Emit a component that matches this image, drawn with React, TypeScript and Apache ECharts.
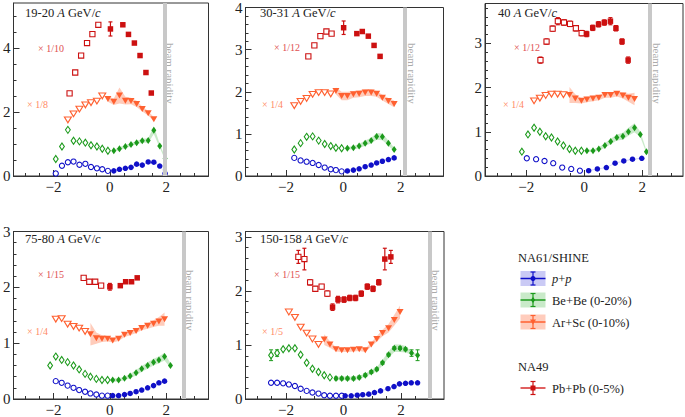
import React, { useEffect, useRef } from 'react';
import * as echarts from 'echarts';

type Pt = [number, number];

// ---------------- Panel 1: 19-20 A GeV/c ----------------
const P1_PP_OPEN: Pt[] = [[-1.92,0.08],[-1.70,0.32],[-1.49,0.43],[-1.29,0.45],[-1.08,0.35],[-0.87,0.38],[-0.67,0.28],[-0.46,0.24],[-0.27,0.21],[-0.07,0.16]];
const P1_PP_FILL: Pt[] = [[0.14,0.16],[0.34,0.21],[0.55,0.24],[0.75,0.27],[0.95,0.37],[1.15,0.34],[1.36,0.44],[1.56,0.43],[1.77,0.31],[1.96,0.08]];
const P1_PP_SYS = [0.01,0.01,0.01,0.01,0.015,0.015,0.015,0.015,0.015,0.01];
const P1_BE_OPEN: Pt[] = [[-1.92,0.53],[-1.70,0.92],[-1.49,1.44],[-1.29,1.10],[-1.08,1.08],[-0.87,1.04],[-0.67,0.96],[-0.46,0.92],[-0.27,0.85],[-0.07,0.79]];
const P1_BE_FILL: Pt[] = [[0.14,0.79],[0.34,0.85],[0.55,0.92],[0.75,0.98],[0.95,1.04],[1.15,1.10],[1.36,1.11],[1.56,1.43],[1.77,0.94],[1.96,0.55]];
const P1_BE_SYS = [0.04,0.05,0.05,0.05,0.05,0.06,0.07,0.12,0.06,0.04];
const P1_AR_OPEN: Pt[] = [[-1.49,1.75],[-1.29,1.94],[-1.08,2.09],[-0.87,2.22],[-0.67,2.29],[-0.46,2.34],[-0.27,2.50]];
const P1_AR_FILL: Pt[] = [[-0.07,2.40],[0.14,2.32],[0.34,2.51],[0.55,2.35],[0.75,2.34],[0.95,2.25],[1.15,2.09],[1.36,1.96],[1.56,1.77]];
const P1_AR_SYS = [0.08,0.10,0.25,0.12,0.10,0.10,0.08,0.07,0.06];
const P1_PB_OPEN: Pt[] = [[-1.43,2.58],[-1.23,3.23],[-1.02,3.76],[-0.81,4.15],[-0.62,4.43],[-0.41,4.72]];
const P1_PB_OPEN_ERR = [0,0,0,0,0,0];
const P1_PB_FILL: Pt[] = [[0.02,4.59],[0.46,4.72],[0.66,4.42],[0.87,4.15],[1.07,3.76],[1.28,3.23],[1.47,2.59]];
const P1_PB_FILL_ERR = [0.22,0.05,0,0,0,0,0];

// ---------------- Panel 2: 30-31 A GeV/c ----------------
const P2_PP_OPEN: Pt[] = [[-1.71,0.43],[-1.49,0.37],[-1.28,0.34],[-1.07,0.31],[-0.86,0.26],[-0.65,0.20],[-0.44,0.16],[-0.26,0.14],[-0.06,0.11]];
const P2_PP_FILL: Pt[] = [[0.14,0.12],[0.35,0.14],[0.55,0.17],[0.76,0.22],[0.97,0.26],[1.16,0.31],[1.36,0.35],[1.57,0.39],[1.77,0.43]];
const P2_PP_SYS = [0.01,0.01,0.01,0.01,0.01,0.01,0.01,0.01,0.01];
const P2_BE_OPEN: Pt[] = [[-1.71,0.63],[-1.49,0.78],[-1.28,0.93],[-1.07,0.94],[-0.86,0.84],[-0.65,0.76],[-0.44,0.71],[-0.26,0.67],[-0.06,0.66]];
const P2_BE_FILL: Pt[] = [[0.14,0.66],[0.35,0.67],[0.55,0.71],[0.76,0.78],[0.97,0.84],[1.16,0.94],[1.36,0.93],[1.57,0.78],[1.77,0.63]];
const P2_BE_SYS = [0.03,0.04,0.05,0.06,0.07,0.08,0.08,0.06,0.04];
const P2_AR_OPEN: Pt[] = [[-1.71,1.67],[-1.49,1.77],[-1.28,1.84],[-1.07,1.94],[-0.86,1.98],[-0.65,1.98],[-0.44,1.95]];
const P2_AR_FILL: Pt[] = [[-0.26,2.02],[-0.06,1.90],[0.14,1.90],[0.35,1.94],[0.55,1.95],[0.76,1.98],[0.97,1.98],[1.16,1.95],[1.36,1.86],[1.57,1.78],[1.77,1.71]];
const P2_AR_SYS = [0.08,0.10,0.10,0.08,0.08,0.08,0.08,0.07,0.07,0.07,0.08];
const P2_PB_OPEN: Pt[] = [[-1.22,2.84],[-1.01,3.10],[-0.80,3.32],[-0.59,3.43],[-0.41,3.38]];
const P2_PB_OPEN_ERR = [0,0,0,0,0];
const P2_PB_FILL: Pt[] = [[0.01,3.52],[0.47,3.38],[0.66,3.43],[0.87,3.32],[1.07,3.10],[1.28,2.84]];
const P2_PB_FILL_ERR = [0.16,0,0,0,0,0];

// ---------------- Panel 3: 40 A GeV/c ----------------
const P3_PP_OPEN: Pt[] = [[-1.98,0.40],[-1.66,0.38],[-1.37,0.34],[-1.07,0.29],[-0.76,0.19],[-0.45,0.16],[-0.15,0.12]];
const P3_PP_FILL: Pt[] = [[0.15,0.12],[0.45,0.16],[0.76,0.19],[1.06,0.29],[1.36,0.34],[1.66,0.38],[1.98,0.40]];
const P3_PP_SYS = [0.01,0.01,0.01,0.01,0.01,0.01,0.01];
const P3_BE_OPEN: Pt[] = [[-2.15,0.55],[-1.94,0.94],[-1.73,1.09],[-1.53,1.00],[-1.33,0.90],[-1.13,0.87],[-0.92,0.78],[-0.72,0.69],[-0.51,0.61],[-0.31,0.57],[-0.10,0.57]];
const P3_BE_FILL: Pt[] = [[0.09,0.57],[0.30,0.57],[0.50,0.61],[0.71,0.69],[0.91,0.78],[1.12,0.87],[1.33,0.90],[1.52,1.00],[1.73,1.09],[1.93,0.94],[2.14,0.55]];
const P3_BE_SYS = [0.03,0.03,0.04,0.05,0.06,0.07,0.08,0.09,0.10,0.06,0.03];
const P3_AR_OPEN: Pt[] = [[-1.73,1.70],[-1.53,1.76],[-1.33,1.82],[-1.13,1.85],[-0.92,1.85],[-0.72,1.84]];
const P3_AR_FILL: Pt[] = [[-0.51,1.83],[-0.31,1.75],[-0.10,1.70],[0.09,1.73],[0.30,1.75],[0.50,1.77],[0.71,1.83],[0.91,1.83],[1.12,1.86],[1.33,1.82],[1.52,1.77],[1.73,1.74]];
const P3_AR_SYS = [0.18,0.10,0.06,0.06,0.06,0.06,0.06,0.06,0.06,0.07,0.09,0.14];
const P3_PB_OPEN: Pt[] = [[-1.51,2.62],[-1.30,3.04],[-1.09,3.33],[-0.91,3.50],[-0.70,3.47],[-0.49,3.44],[-0.29,3.34],[-0.09,3.23]];
const P3_PB_OPEN_ERR = [0.07,0.06,0.06,0.08,0.06,0.06,0.06,0.06];
const P3_PB_FILL: Pt[] = [[0.08,3.21],[0.29,3.35],[0.49,3.43],[0.69,3.47],[0.90,3.50],[1.09,3.34],[1.30,3.04],[1.51,2.62]];
const P3_PB_FILL_ERR = [0.06,0.06,0.06,0.06,0.08,0.06,0.06,0.07];

// ---------------- Panel 4: 75-80 A GeV/c ----------------
const P4_PP_OPEN: Pt[] = [[-1.92,0.32],[-1.71,0.29],[-1.50,0.24],[-1.29,0.20],[-1.09,0.16],[-0.88,0.13],[-0.69,0.10],[-0.48,0.08],[-0.28,0.06],[-0.08,0.06]];
const P4_PP_FILL: Pt[] = [[0.10,0.06],[0.31,0.06],[0.52,0.08],[0.72,0.10],[0.93,0.13],[1.13,0.16],[1.34,0.20],[1.55,0.24],[1.74,0.29],[1.94,0.32]];
const P4_PP_SYS = [0.008,0.008,0.008,0.008,0.008,0.01,0.01,0.01,0.01,0.01];
const P4_BE_OPEN: Pt[] = [[-2.12,0.60],[-1.92,0.76],[-1.71,0.70],[-1.50,0.66],[-1.29,0.60],[-1.09,0.53],[-0.88,0.45],[-0.69,0.40],[-0.48,0.36],[-0.28,0.34],[-0.08,0.34]];
const P4_BE_FILL: Pt[] = [[0.10,0.34],[0.31,0.34],[0.52,0.37],[0.72,0.41],[0.93,0.47],[1.13,0.54],[1.34,0.60],[1.55,0.66],[1.74,0.70],[1.94,0.76],[2.15,0.60]];
const P4_BE_SYS = [0.03,0.03,0.03,0.04,0.05,0.05,0.06,0.06,0.06,0.07,0.04];
const P4_AR_OPEN: Pt[] = [[-1.92,1.43],[-1.71,1.44],[-1.50,1.34],[-1.29,1.30],[-1.09,1.27],[-0.88,1.21]];
const P4_AR_FILL: Pt[] = [[-0.69,1.16],[-0.48,1.09],[-0.28,1.08],[-0.08,1.08],[0.10,1.05],[0.31,1.08],[0.52,1.15],[0.72,1.18],[0.93,1.22],[1.13,1.27],[1.34,1.31],[1.55,1.35],[1.74,1.39],[1.94,1.43]];
const P4_AR_SYS = [0.20,0.10,0.06,0.05,0.04,0.04,0.04,0.04,0.04,0.04,0.05,0.06,0.08,0.12];
const P4_PB_OPEN: Pt[] = [[-0.93,2.17],[-0.73,2.10],[-0.52,2.10],[-0.31,2.03]];
const P4_PB_OPEN_ERR = [0,0,0,0];
const P4_PB_FILL: Pt[] = [[0.00,2.01],[0.37,2.03],[0.56,2.10],[0.77,2.10],[0.97,2.17]];
const P4_PB_FILL_ERR = [0.06,0,0,0,0];

// ---------------- Panel 5: 150-158 A GeV/c ----------------
const P5_PP_OPEN: Pt[] = [[-2.52,0.30],[-2.31,0.30],[-2.10,0.29],[-1.90,0.27],[-1.69,0.24],[-1.49,0.19],[-1.28,0.15],[-1.08,0.12],[-0.87,0.10],[-0.67,0.07],[-0.47,0.06],[-0.26,0.06],[-0.06,0.06]];
const P5_PP_FILL: Pt[] = [[0.06,0.06],[0.27,0.06],[0.48,0.07],[0.67,0.08],[0.88,0.09],[1.08,0.12],[1.29,0.15],[1.55,0.19],[1.76,0.23],[1.95,0.28],[2.16,0.29],[2.36,0.30],[2.58,0.30]];
const P5_PP_SYS = [0.008,0.008,0.008,0.008,0.008,0.008,0.01,0.01,0.01,0.01,0.01,0.01,0.01];
const P5_BE_OPEN: Pt[] = [[-2.52,0.81],[-2.31,0.85],[-2.10,0.92],[-1.90,0.94],[-1.69,0.94],[-1.49,0.82],[-1.28,0.67],[-1.08,0.56],[-0.87,0.50],[-0.67,0.44],[-0.47,0.40]];
const P5_BE_OPEN_ERR = [0.10,0.06,0,0,0,0,0,0,0,0,0];
const P5_BE_FILL: Pt[] = [[-0.26,0.38],[-0.06,0.38],[0.14,0.38],[0.35,0.38],[0.55,0.40],[0.76,0.44],[0.97,0.50],[1.16,0.55],[1.36,0.67],[1.57,0.82],[1.77,0.94],[1.97,0.94],[2.16,0.92],[2.37,0.85],[2.58,0.81]];
const P5_BE_FILL_ERR = [0,0,0,0,0,0,0,0,0,0,0,0,0,0.06,0.10];
const P5_BE_SYS = [0.03,0.03,0.03,0.03,0.03,0.03,0.04,0.04,0.05,0.06,0.07,0.07,0.06,0.03,0.02];
const P5_AR_OPEN: Pt[] = [[-1.90,1.61],[-1.69,1.51],[-1.49,1.33],[-1.28,1.22],[-1.08,1.11],[-0.87,1.01]];
const P5_AR_FILL: Pt[] = [[-0.67,1.10],[-0.47,1.01],[-0.26,0.92],[-0.06,0.90],[0.14,0.90],[0.35,0.91],[0.55,0.92],[0.76,0.90],[0.97,1.01],[1.16,1.11],[1.36,1.22],[1.57,1.31],[1.77,1.46],[1.97,1.61]];
const P5_AR_SYS = [0.10,0.06,0.04,0.03,0.03,0.03,0.03,0.03,0.04,0.05,0.06,0.08,0.10,0.12];
const P5_PB_OPEN: Pt[] = [[-1.57,2.63],[-1.36,2.59],[-1.16,2.16],[-0.98,2.04],[-0.76,2.08],[-0.56,1.95]];
const P5_PB_OPEN_ERR = [0.12,0.20,0.05,0.04,0.04,0.05];
const P5_PB_FILL: Pt[] = [[-0.38,1.70],[-0.19,1.84],[0.02,1.84],[0.22,1.87],[0.42,1.87],[0.62,1.95],[0.83,2.08],[1.03,2.04],[1.23,2.16],[1.44,2.59],[1.65,2.63]];
const P5_PB_FILL_ERR = [0.06,0.06,0.05,0.05,0.05,0.05,0.05,0.05,0.05,0.20,0.12];

// ---------------- labels / annotations ----------------
const TITLES = ['19-20', '30-31', '40', '75-80', '150-158'];
const PB_SCALE = ['\u00d7 1/10', '\u00d7 1/12', '\u00d7 1/12', '\u00d7 1/15', '\u00d7 1/15'];
const AR_SCALE = ['\u00d7 1/8', '\u00d7 1/4', '\u00d7 1/4', '\u00d7 1/4', '\u00d7 1/5'];
const BEAM_Y = [1.93, 2.15, 2.27, 2.62, 2.99];
const BE_STAT = [0.03, 0.03, 0.03, 0.025, 0.025];
const X_MAJOR = [-2, 0, 2];
const X_MINOR = [-3, -2.5, -1.5, -1, -0.5, 0.5, 1, 1.5, 2.5, 3];
const Y_MAJOR = [[0, 2, 4], [0, 1, 2, 3, 4], [0, 1, 2, 3], [0, 1, 2, 3], [0, 1, 2, 3]];

// ---------------- layout ----------------
const GRIDS = [
  { left: 9.5, top: 3, width: 199, height: 173, xmin: -3.42, xmax: 3.5, ymax: 5.4, ystep: 0.5 },
  { left: 245.5, top: 3.5, width: 198, height: 172.5, xmin: -3.41, xmax: 3.49, ymax: 4.0, ystep: 0.2 },
  { left: 485, top: 3.5, width: 198, height: 172.5, xmin: -3.42, xmax: 3.4, ymax: 3.9, ystep: 0.2 },
  { left: 9.5, top: 231.5, width: 199, height: 171.2, xmin: -3.42, xmax: 3.5, ymax: 3.0, ystep: 0.2 },
  { left: 245.5, top: 231.5, width: 198.5, height: 171.2, xmin: -3.41, xmax: 3.5, ymax: 3.1, ystep: 0.2 },
];
const TITLE_POS = [[25, 13], [260, 13], [498, 13], [25, 238.5], [260, 238.5]];
const PB_LABEL_POS = [[38, 48], [274, 47], [514, 47], [38, 274], [274, 274]];
const AR_LABEL_POS = [[27, 104], [262, 104], [503, 104], [27, 331], [262, 331]];

const PANELS = [
  { ppO: P1_PP_OPEN, ppF: P1_PP_FILL, ppS: P1_PP_SYS, beO: P1_BE_OPEN, beF: P1_BE_FILL, beS: P1_BE_SYS, arO: P1_AR_OPEN, arF: P1_AR_FILL, arS: P1_AR_SYS, pbO: P1_PB_OPEN, pbOE: P1_PB_OPEN_ERR, pbF: P1_PB_FILL, pbFE: P1_PB_FILL_ERR },
  { ppO: P2_PP_OPEN, ppF: P2_PP_FILL, ppS: P2_PP_SYS, beO: P2_BE_OPEN, beF: P2_BE_FILL, beS: P2_BE_SYS, arO: P2_AR_OPEN, arF: P2_AR_FILL, arS: P2_AR_SYS, pbO: P2_PB_OPEN, pbOE: P2_PB_OPEN_ERR, pbF: P2_PB_FILL, pbFE: P2_PB_FILL_ERR },
  { ppO: P3_PP_OPEN, ppF: P3_PP_FILL, ppS: P3_PP_SYS, beO: P3_BE_OPEN, beF: P3_BE_FILL, beS: P3_BE_SYS, arO: P3_AR_OPEN, arF: P3_AR_FILL, arS: P3_AR_SYS, pbO: P3_PB_OPEN, pbOE: P3_PB_OPEN_ERR, pbF: P3_PB_FILL, pbFE: P3_PB_FILL_ERR },
  { ppO: P4_PP_OPEN, ppF: P4_PP_FILL, ppS: P4_PP_SYS, beO: P4_BE_OPEN, beF: P4_BE_FILL, beS: P4_BE_SYS, arO: P4_AR_OPEN, arF: P4_AR_FILL, arS: P4_AR_SYS, pbO: P4_PB_OPEN, pbOE: P4_PB_OPEN_ERR, pbF: P4_PB_FILL, pbFE: P4_PB_FILL_ERR },
  { ppO: P5_PP_OPEN, ppF: P5_PP_FILL, ppS: P5_PP_SYS, beO: P5_BE_OPEN, beF: P5_BE_FILL, beS: P5_BE_SYS, arO: P5_AR_OPEN, arF: P5_AR_FILL, arS: P5_AR_SYS, pbO: P5_PB_OPEN, pbOE: P5_PB_OPEN_ERR, pbF: P5_PB_FILL, pbFE: P5_PB_FILL_ERR, beOE: P5_BE_OPEN_ERR, beFE: P5_BE_FILL_ERR },
];

const FONT = 'Liberation Serif, Times New Roman, serif';
const C_PP = '#1010c8';
const C_BE = '#1c9a1c';
const C_AR = '#ff6030';
const C_PB = '#cc1010';
const BAND_PP = 'rgba(40,40,220,0.22)';
const BAND_BE = 'rgba(40,170,40,0.25)';
const BAND_AR = 'rgba(255,110,60,0.35)';
const AXIS_C = '#333';

function fmt(v: number) {
  return v < 0 ? '\u2212' + Math.abs(v) : String(v);
}
function steps(max: number, step: number) {
  const a: number[] = [];
  for (let k = 0; k * step <= max + 1e-9; k++) a.push(+(k * step).toFixed(3));
  return a;
}

function bandSeries(ax: number, pts: Pt[], sys: number[], color: string) {
  return {
    type: 'custom', xAxisIndex: ax, yAxisIndex: ax, silent: true, z: 1,
    data: [[pts[0][0], pts[0][1]]],
    renderItem: (_p: any, api: any) => {
      const up = pts.map((p, i) => api.coord([p[0], p[1] + sys[i]]));
      const lo = pts.map((p, i) => api.coord([p[0], p[1] - sys[i]])).reverse();
      return { type: 'polygon', shape: { points: up.concat(lo) }, style: { fill: color, stroke: 'none' } };
    },
  };
}

function errSeries(ax: number, pts: Pt[], errs: number[], color: string, cap: number, w: number) {
  return {
    type: 'custom', xAxisIndex: ax, yAxisIndex: ax, silent: true, z: 3,
    data: pts.map((p, i) => [p[0], p[1], errs[i]]),
    renderItem: (_p: any, api: any) => {
      const x = api.value(0), y = api.value(1), e = api.value(2);
      if (!e) return { type: 'group', children: [] };
      const a = api.coord([x, y + e]);
      const b = api.coord([x, y - e]);
      const ch: any[] = [
        { type: 'line', shape: { x1: a[0], y1: a[1], x2: b[0], y2: b[1] }, style: { stroke: color, lineWidth: w } },
      ];
      if (cap > 0) {
        ch.push({ type: 'line', shape: { x1: a[0] - cap, y1: a[1], x2: a[0] + cap, y2: a[1] }, style: { stroke: color, lineWidth: w } });
        ch.push({ type: 'line', shape: { x1: b[0] - cap, y1: b[1], x2: b[0] + cap, y2: b[1] }, style: { stroke: color, lineWidth: w } });
      }
      return { type: 'group', children: ch };
    },
  };
}

function scatter(ax: number, pts: Pt[], symbol: string, size: any, color: string, open: boolean, rotate = 0) {
  return {
    type: 'scatter', xAxisIndex: ax, yAxisIndex: ax, silent: true, z: 4,
    symbol, symbolSize: size, symbolRotate: rotate,
    data: pts,
    itemStyle: open
      ? { color: '#ffffff', borderColor: color, borderWidth: 1.1, opacity: 1 }
      : { color, borderWidth: 0, opacity: 1 },
  };
}

function buildOption() {
  const xAxis: any[] = [];
  const yAxis: any[] = [];
  const series: any[] = [];
  const graphic: any[] = [];

  GRIDS.forEach((g, gi) => {
    const base = { gridIndex: gi, type: 'value', splitLine: { show: false } };
    xAxis.push({
      ...base, min: g.xmin, max: g.xmax, position: 'bottom',
      axisLine: { show: true, onZero: false, lineStyle: { color: AXIS_C, width: 1 } },
      axisTick: { show: true, inside: true, length: 6, customValues: X_MAJOR, lineStyle: { color: AXIS_C } },
      axisLabel: { show: true, customValues: X_MAJOR, formatter: fmt, fontFamily: FONT, fontSize: 15, color: '#222', margin: 3 },
    });
    xAxis.push({
      ...base, min: g.xmin, max: g.xmax, position: 'bottom',
      axisLine: { show: false, onZero: false },
      axisTick: { show: true, inside: true, length: 3, customValues: X_MINOR, lineStyle: { color: AXIS_C } },
      axisLabel: { show: false },
    });
    yAxis.push({
      ...base, min: 0, max: g.ymax, position: 'left',
      axisLine: { show: true, onZero: false, lineStyle: { color: AXIS_C, width: 1 } },
      axisTick: { show: true, inside: true, length: 6, customValues: Y_MAJOR[gi], lineStyle: { color: AXIS_C } },
      axisLabel: { show: true, customValues: Y_MAJOR[gi], formatter: fmt, fontFamily: FONT, fontSize: 15, color: '#222', margin: 3 },
    });
    yAxis.push({
      ...base, min: 0, max: g.ymax, position: 'left',
      axisLine: { show: false, onZero: false },
      axisTick: { show: true, inside: true, length: 3, customValues: steps(g.ymax, g.ystep), lineStyle: { color: AXIS_C } },
      axisLabel: { show: false },
    });

    const ax = gi * 2;
    const P: any = PANELS[gi];

    // beam rapidity band
    series.push({
      type: 'line', xAxisIndex: ax, yAxisIndex: ax, data: [], silent: true, z: 0,
      markLine: {
        silent: true, symbol: ['none', 'none'], animation: false,
        lineStyle: { color: '#c8c8c8', width: 4, type: 'solid' },
        label: { show: false },
        data: [{ xAxis: BEAM_Y[gi] }],
      },
    });

    // systematic bands
    series.push(bandSeries(ax, P.ppF, P.ppS, BAND_PP));
    series.push(bandSeries(ax, P.beF, P.beS, BAND_BE));
    series.push(bandSeries(ax, P.arF, P.arS, BAND_AR));

    // error bars
    series.push(errSeries(ax, P.beF, P.beFE ? P.beFE.map((e: number) => e || BE_STAT[gi]) : P.beF.map(() => BE_STAT[gi]), C_BE, P.beFE ? 2 : 0, 1));
    if (P.beOE) series.push(errSeries(ax, P.beO, P.beOE, C_BE, 2, 1));
    series.push(errSeries(ax, P.pbO, P.pbOE, C_PB, 2, 1.2));
    series.push(errSeries(ax, P.pbF, P.pbFE, C_PB, 2, 1.2));

    // markers
    series.push(scatter(ax, P.ppO, 'circle', 5.2, C_PP, true));
    series.push(scatter(ax, P.ppF, 'circle', 5.5, C_PP, false));
    series.push(scatter(ax, P.beO, 'diamond', [4.8, 7], C_BE, true));
    series.push(scatter(ax, P.beF, 'diamond', [5, 7], C_BE, false));
    series.push(scatter(ax, P.arO, 'triangle', [7, 5.8], C_AR, true, 180));
    series.push(scatter(ax, P.arF, 'triangle', [7, 6], C_AR, false, 180));
    series.push(scatter(ax, P.pbO, 'rect', 5.2, C_PB, true));
    series.push(scatter(ax, P.pbF, 'rect', 5.5, C_PB, false));

    // title
    graphic.push({
      type: 'text', x: TITLE_POS[gi][0], y: TITLE_POS[gi][1], silent: true,
      style: {
        text: '{n|' + TITLES[gi] + ' }{i|A}{n| GeV/}{i|c}',
        verticalAlign: 'middle', align: 'left',
        rich: {
          n: { fontFamily: FONT, fontSize: 12.5, fill: '#222' },
          i: { fontFamily: FONT, fontSize: 12.5, fontStyle: 'italic', fill: '#222' },
        },
      },
    });
    graphic.push({
      type: 'text', x: PB_LABEL_POS[gi][0], y: PB_LABEL_POS[gi][1], silent: true,
      style: { text: PB_SCALE[gi], fontFamily: FONT, fontSize: 10, fill: '#e05050', verticalAlign: 'middle', align: 'left' },
    });
    graphic.push({
      type: 'text', x: AR_LABEL_POS[gi][0], y: AR_LABEL_POS[gi][1], silent: true,
      style: { text: AR_SCALE[gi], fontFamily: FONT, fontSize: 10, fill: '#ff8a66', verticalAlign: 'middle', align: 'left' },
    });
    // beam rapidity text
    const bx = g.left + ((BEAM_Y[gi] - g.xmin) / (g.xmax - g.xmin)) * g.width;
    graphic.push({
      type: 'text', x: bx + 6.5, y: gi < 3 ? 43 : 270, rotation: -Math.PI / 2, silent: true,
      style: { text: 'beam rapidity', fontFamily: FONT, fontSize: 11, fill: '#aaaaaa', verticalAlign: 'middle', align: 'left' },
    });
  });

  // ---------- legend ----------
  const lx = 520.5, lw = 25, cx = lx + lw / 2, tx = 552;
  const rows = [
    { c: 278.5, box: 'rgba(90,90,225,0.32)', col: C_PP, label: '{i|p}{n|+}{i|p}', mk: 'circle' },
    { c: 300, box: 'rgba(60,180,60,0.28)', col: C_BE, label: '{n|Be+Be (0-20%)}', mk: 'diamond' },
    { c: 322, box: 'rgba(255,120,80,0.38)', col: C_AR, label: '{n|Ar+Sc (0-10%)}', mk: 'triangle' },
  ];
  const rich = {
    n: { fontFamily: FONT, fontSize: 12.5, fill: '#222' },
    i: { fontFamily: FONT, fontSize: 12.5, fontStyle: 'italic', fill: '#222' },
  };
  graphic.push({ type: 'text', x: 518, y: 258, silent: true, style: { text: 'NA61/SHINE', fontFamily: FONT, fontSize: 12.5, fill: '#222', verticalAlign: 'middle' } });
  graphic.push({ type: 'text', x: 518, y: 367, silent: true, style: { text: 'NA49', fontFamily: FONT, fontSize: 12.5, fill: '#222', verticalAlign: 'middle' } });
  const errGlyph = (c: number, col: string, lwid: number) => [
    { type: 'line', silent: true, shape: { x1: lx, y1: c, x2: lx + lw, y2: c }, style: { stroke: col, lineWidth: lwid } },
    { type: 'line', silent: true, shape: { x1: cx, y1: c - 6.5, x2: cx, y2: c + 6.5 }, style: { stroke: col, lineWidth: 1.2 } },
    { type: 'line', silent: true, shape: { x1: cx - 2.5, y1: c - 6.5, x2: cx + 2.5, y2: c - 6.5 }, style: { stroke: col, lineWidth: 1.2 } },
    { type: 'line', silent: true, shape: { x1: cx - 2.5, y1: c + 6.5, x2: cx + 2.5, y2: c + 6.5 }, style: { stroke: col, lineWidth: 1.2 } },
  ];
  rows.forEach((r) => {
    graphic.push({ type: 'rect', silent: true, shape: { x: lx, y: r.c - 7.5, width: lw, height: 15 }, style: { fill: r.box } });
    errGlyph(r.c, r.col, 1.5).forEach((e) => graphic.push(e));
    if (r.mk === 'circle') {
      graphic.push({ type: 'circle', silent: true, shape: { cx, cy: r.c, r: 2.5 }, style: { fill: r.col } });
    } else if (r.mk === 'diamond') {
      graphic.push({ type: 'polygon', silent: true, shape: { points: [[cx, r.c - 3], [cx + 2.2, r.c], [cx, r.c + 3], [cx - 2.2, r.c]] }, style: { fill: r.col } });
    } else {
      graphic.push({ type: 'polygon', silent: true, shape: { points: [[cx - 3, r.c - 2.5], [cx + 3, r.c - 2.5], [cx, r.c + 2.5]] }, style: { fill: r.col } });
    }
    graphic.push({ type: 'text', x: tx, y: r.c + 0.5, silent: true, style: { text: r.label, rich, verticalAlign: 'middle', align: 'left' } });
  });
  const pc = 388;
  errGlyph(pc, '#e06060', 2).forEach((e, i) => {
    if (i > 0) e.style.stroke = C_PB;
    graphic.push(e);
  });
  graphic.push({ type: 'rect', silent: true, shape: { x: cx - 2.5, y: pc - 2.5, width: 5, height: 5 }, style: { fill: C_PB } });
  graphic.push({ type: 'text', x: tx, y: pc + 0.5, silent: true, style: { text: 'Pb+Pb (0-5%)', fontFamily: FONT, fontSize: 12.5, fill: '#222', verticalAlign: 'middle', align: 'left' } });

  return {
    animation: false,
    backgroundColor: '#ffffff',
    textStyle: { fontFamily: FONT },
    grid: GRIDS.map((g) => ({
      left: g.left, top: g.top, width: g.width, height: g.height,
      show: true, borderColor: AXIS_C, borderWidth: 1, backgroundColor: 'transparent',
    })),
    xAxis, yAxis, series, graphic,
  };
}

export default function App() {
  const ref = useRef<HTMLDivElement>(null);
  useEffect(() => {
    if (!ref.current) return;
    const chart = echarts.init(ref.current, undefined, { renderer: 'svg' });
    chart.setOption(buildOption() as any);
    return () => chart.dispose();
  }, []);
  return (
    <div
      ref={ref}
      style={{ position: 'fixed', left: 0, top: 0, width: 685, height: 417, background: '#fff' }}
    />
  );
}
